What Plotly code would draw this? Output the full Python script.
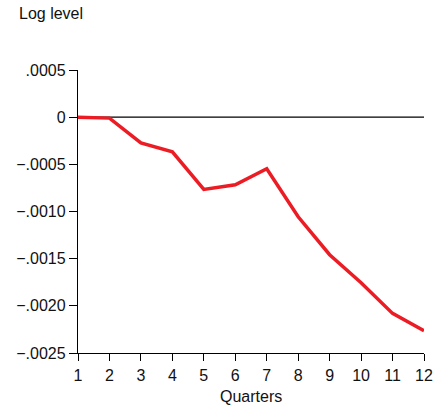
import plotly.graph_objects as go

quarters = [1, 2, 3, 4, 5, 6, 7, 8, 9, 10, 11, 12]
log_level = [0.0, -0.00001, -0.000272, -0.000367, -0.000766, -0.000717,
             -0.000547, -0.001056, -0.001458, -0.001755, -0.00208, -0.002263]
ytick_vals = [0.0005, 0.0, -0.0005, -0.0010, -0.0015, -0.0020, -0.0025]
ytick_text = [".0005", "0", "\u2212.0005", "\u2212.0010", "\u2212.0015", "\u2212.0020", "\u2212.0025"]

fig = go.Figure()
fig.add_trace(go.Scatter(x=quarters, y=log_level, mode="lines",
                         line=dict(color="#ec1c24", width=3.5), showlegend=False))

fig.add_shape(type="line", xref="x", yref="y", x0=1, x1=12, y0=0, y1=0,
              line=dict(color="black", width=1.3), layer="below")

fig.update_layout(
    width=445, height=406,
    margin=dict(l=78, r=21, t=70, b=53),
    paper_bgcolor="white", plot_bgcolor="white",
    font=dict(family="Liberation Sans, Arial, sans-serif", size=16, color="#111111"),
    xaxis=dict(range=[1, 12], tickvals=quarters, showgrid=False, zeroline=False,
               showline=True, linecolor="black", linewidth=1.3, automargin=False,
               ticks="outside", ticklen=7, tickcolor="black", tickwidth=1.3,
               tickfont=dict(size=16), ticklabelstandoff=1),
    yaxis=dict(range=[-0.0025, 0.0005], tickvals=ytick_vals, ticktext=ytick_text,
               showgrid=False, zeroline=False, automargin=False,
               showline=True, linecolor="black", linewidth=1.3,
               ticks="outside", ticklen=8, tickcolor="black", tickwidth=1.3,
               tickfont=dict(size=16)),
    annotations=[
        dict(text="Log level", xref="paper", yref="paper",
             x=-61/346, y=1 + 56/283, xanchor="left", yanchor="middle",
             showarrow=False, font=dict(size=16)),
        dict(text="Quarters", xref="paper", yref="paper",
             x=0.5, y=-43/283, xanchor="center", yanchor="middle",
             showarrow=False, font=dict(size=16)),
    ],
)

fig.write_html("out.html")
